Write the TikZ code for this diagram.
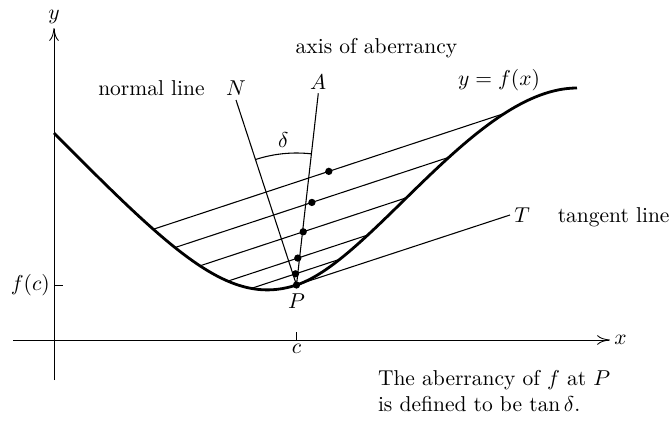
\documentclass[tikz,border=0pt]{standalone}
\usetikzlibrary{arrows.meta,calc,intersections,positioning}
\begin{document}
\begin{tikzpicture}[x=0.01634cm,y=0.01634cm,
      every node/.style={inner sep=2pt,outer sep=0pt},
      thinline/.style={line width=0.5pt},
      axisline/.style={line width=0.4pt,-{To[length=6pt,width=4.5pt]}},
      middot/.style={fill,circle,minimum size=3.4pt,inner sep=0pt}]
      \useasboundingbox (0,0) rectangle (671,420);
      % axes
      \coordinate (O) at (54,80);
      \coordinate (P) at (296.5,135);
      \draw[axisline](13,80)--(610,80) node[right](xl){$x$};
      \draw[axisline](54,40)--(54,392) node[above](yl){$y$};
      \draw[line width=0.4pt](O|-P)--($(O|-P)+(9,0)$);
      \node[left] at(O|-P)(fc){$f(c)$};
      \draw[line width=0.4pt](P|-O)--($(P|-O)+(0,8)$);
      \node[below] at(P|-O)(cl){$c$};
      % the curve y=f(x)
      \draw[line width=1.3pt,name path=curve]
      (54,287) .. controls (175,165) and (230,113.1) .. (P)
      .. controls (372.5,160.1) and (477,332) .. (577,332);
      \node at(499,340)(fl){$y=f(x)$};
      % chords parallel to the tangent, with their midpoints
      \foreach \h [count=\i] in {11.5,26.5,51,77.5,103}{
        \path[name path=chord\i]
        ($(P)+(0,\h)+(-228,-75.2)$)--($(P)+(0,\h)+(228,75.2)$);
        \draw[thinline,name intersections={of=curve and chord\i,by={l\i,r\i}}]
        (l\i)--(r\i);
        \node[middot] at($(l\i)!0.5!(r\i)$)(m\i){};
      }
      % tangent, normal and axis
      \coordinate (Ntop) at (236,320);
      \coordinate (Atop) at (318.3,326.7);
      \coordinate (Tend) at (510,205);
      \draw[thinline](P)--(Tend) node[right](tl){$T$};
      \node[base right=9pt of tl](tt){tangent line};
      \draw[thinline](P)--(Ntop) node[above](nl){$N$};
      \node[base left=6pt of nl](nt){normal line};
      \draw[thinline](P)--(Atop) node[above](al){$A$};
      \node at(376.5,372)(at){axis of aberrancy};
      \draw[thinline]($(P)+(108.1:132)$) arc[start angle=108.1,end angle=83.5,radius=132];
      \node at(283.3,280)(dl){$\delta$};
      \node[middot] at(P)(pdot){};
      \node[below=2pt] at(P)(pl){$P$};
      \node[anchor=north west,align=left] at(373.7,54.2)(note)
      {The aberrancy of $f$ at $P$\\is defined to be $\tan\delta$.};
    \end{tikzpicture}
\end{document}
